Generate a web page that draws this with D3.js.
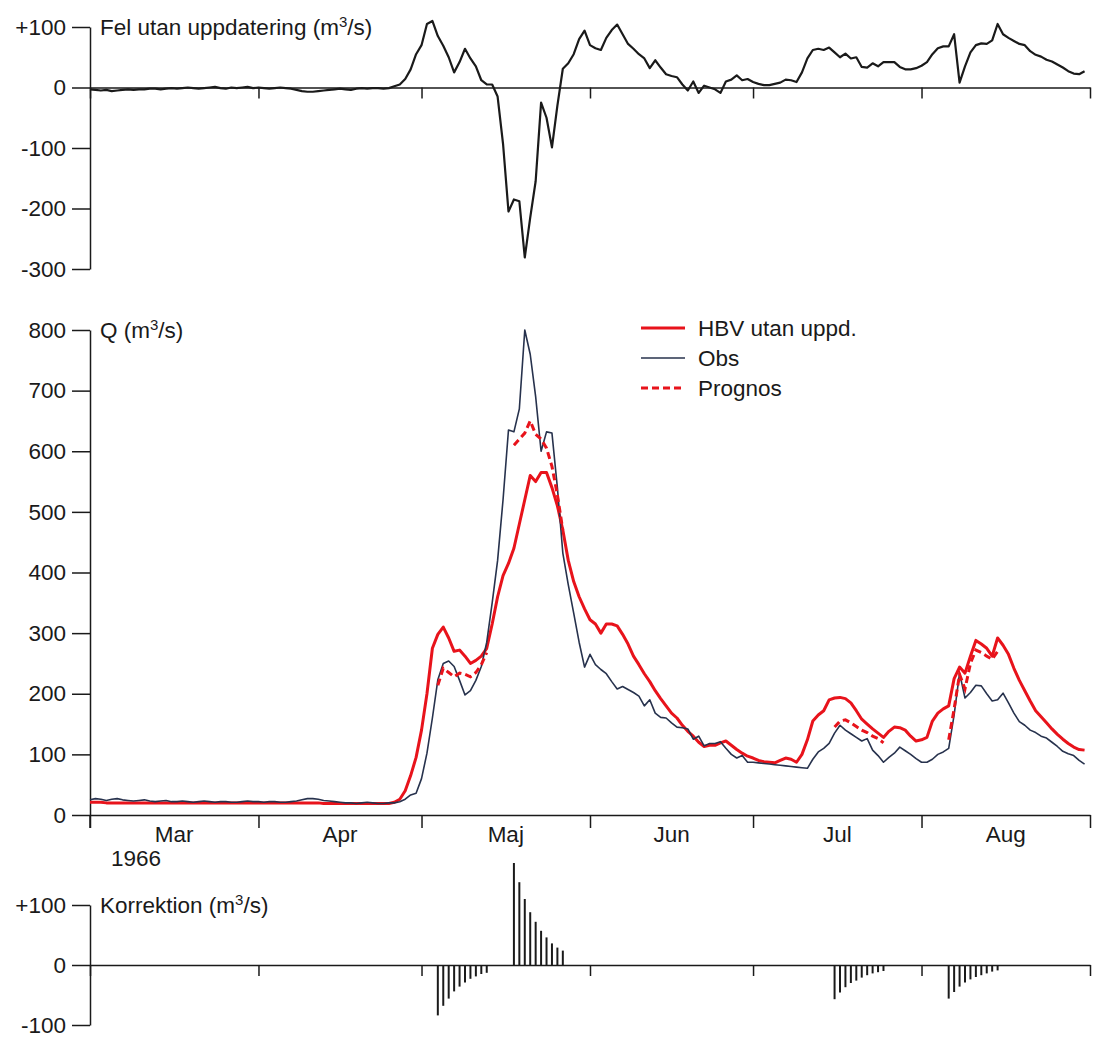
<!DOCTYPE html>
<html>
<head>
<meta charset="utf-8">
<script src="https://cdn.jsdelivr.net/npm/d3@7"></script>
<style>
  body { margin: 0; background: #fff; }
  text { font-family: "Liberation Sans", Arial, sans-serif; fill: #1a1a1a; }
</style>
</head>
<body>
<div id="chart"></div>
<script>
// ------------------------------------------------------------------
//  data (daily values, 1966-03-01 .. 1966-08-31)
// ------------------------------------------------------------------
var startDate = "1966-03-01"
var endDate = "1966-09-01"

var months = ["Mar", "Apr", "Maj", "Jun", "Jul", "Aug"]
var yearLabel = "1966"

// Obs (m3/s)
var obsQ = [
  25,27,26,24,26,27,25,24,23,24,25,23,22,23,24,22,22,23,22,21,22,23,22,21,22,22,21,21,22,23,22,
  22,21,22,22,21,21,22,23,25,27,27,26,24,23,22,21,20,20,19,20,21,20,19,19,20,
  20,22,26,33,36,60,102,160,223,250,254,245,222,198,205,222,245,285,350,420,520,635,632,670,800,
  760,690,600,632,630,540,432,380,333,285,244,
  265,248,240,233,220,208,212,207,202,196,180,190,168,161,160,152,145,144,142,125,130,114,118,118,
  121,110,100,94,98,87,
  87,86,85,84,83,82,81,80,79,78,77,92,104,110,118,135,148,140,134,128,122,126,107,98,87,95,102,112,
  106,100,93,
  87,87,92,100,104,110,165,234,193,202,214,213,200,188,190,201,185,168,154,148,140,136,130,127,120,
  113,105,101,98,90,84
]

// HBV utan uppdatering (m3/s)
var hbvQ = [
  21,21,21,20,20,20,20,20,20,20,20,20,20,20,20,20,20,20,20,20,20,20,20,20,20,20,20,20,20,20,20,
  20,20,20,20,20,20,20,20,20,20,20,20,19,19,19,19,19,19,19,19,19,19,19,19,19,
  21,26,40,65,95,140,200,275,298,310,292,270,272,262,250,255,262,275,315,360,395,415,440,480,520,
  560,550,565,565,540,510,470,420,385,360,340,
  322,315,300,315,315,312,298,282,262,248,233,220,205,192,180,168,160,148,138,130,120,113,115,115,
  119,122,115,108,102,97,
  94,90,88,87,86,90,94,92,87,100,124,155,165,172,190,193,194,192,185,172,158,150,142,135,128,138,
  145,144,140,130,122,
  124,128,155,168,175,180,225,244,234,262,288,282,275,262,292,280,265,242,222,205,188,172,162,152,
  142,133,125,118,112,108,107
]

// Fel utan uppdatering (m3/s)
var felQ = [
  -3,-4,-5,-4,-6,-5,-4,-3,-4,-3,-3,-2,-2,-3,-2,-1,-2,-1,0,-1,-2,-1,0,1,-1,-2,0,-1,0,1,-1,
  0,-1,-2,-1,0,-1,-2,-4,-6,-7,-7,-6,-5,-4,-3,-2,-3,-4,-2,-1,-2,-1,-1,-2,-1,
  2,5,14,30,55,70,105,110,85,69,50,25,42,64,48,35,12,5,5,-15,-93,-205,-185,-188,-281,
  -215,-155,-25,-50,-99,-30,31,40,55,80,94,
  70,65,62,82,95,104,88,72,64,55,48,32,45,33,22,19,17,5,-5,10,-9,3,0,-3,
  -9,10,13,20,12,14,
  9,6,4,4,6,8,13,12,9,25,48,62,64,62,66,58,50,56,48,50,34,33,40,35,42,42,
  42,34,30,30,32,
  36,42,55,65,68,68,88,8,35,58,70,73,72,78,105,88,82,77,72,70,60,54,51,46,
  43,38,33,27,23,22,27
]

// Prognos och korrektion, 10 dagar från varje uppdatering
var forecastStarts = ["1966-05-04", "1966-05-18", "1966-07-16", "1966-08-06"]
var prognosQ = [
  [214,242,235,228,234,232,228,235,248,268],
  [610,620,630,650,628,620,605,575,528,470],
  [145,155,157,152,146,140,136,130,126,119],
  [124,175,232,208,250,272,268,262,257,270]
]
var korrektion = [
  [-84,-68,-56,-44,-36,-29,-23,-19,-15,-13],
  [170,138,110,88,72,57,46,36,29,24],
  [-57,-46,-37,-30,-26,-21,-17,-14,-12,-10],
  [-56,-45,-36,-29,-24,-20,-17,-14,-11,-9]
]

var felTicks = [100, 0, -100, -200, -300]
var qTicks = [0, 100, 200, 300, 400, 500, 600, 700, 800]
var korrTicks = [100, 0, -100]

// ------------------------------------------------------------------
var W = 1093, H = 1037
var red = "#e8131b", navy = "#27324d", ink = "#1a1a1a"
var fs = 22.5

var parse = d3.utcParse("%Y-%m-%d")
var t0 = parse(startDate)
function dayDate(i) { return d3.utcDay.offset(t0, i) }
function fromStart(s, i) { return d3.utcDay.offset(parse(s), i) }

var svg = d3.select("#chart").append("svg")
  .attr("width", W).attr("height", H)

var x = d3.scaleUtc().domain([t0, parse(endDate)]).range([90, 1090])
var monthStarts = d3.utcMonth.range(t0, d3.utcDay.offset(parse(endDate), 1))

var yFel = d3.scaleLinear().domain([-300, 100]).range([269, 27])
var yQ = d3.scaleLinear().domain([0, 800]).range([815, 330])
var yK = d3.scaleLinear().domain([-100, 100]).range([1025, 905])

function fmtSigned(d) { return d > 0 ? "+" + d : String(d) }

// y axis with ticks to the left
function drawYAxis(scale, ticks, fmt) {
  var g = svg.append("g")
    .attr("transform", "translate(90,0)")
    .call(d3.axisLeft(scale).tickValues(ticks).tickFormat(fmt).tickSize(18).tickPadding(6).tickSizeOuter(0))
  g.select(".domain").attr("stroke", ink).attr("stroke-width", 1.5)
  g.selectAll(".tick line").attr("stroke", ink).attr("stroke-width", 1.5)
  g.selectAll(".tick text").style("font-size", fs + "px").style("font-family", "Liberation Sans, Arial, sans-serif").attr("fill", ink)
  return g
}

// horizontal line with month ticks pointing down
function drawXAxis(yPix, tickLen) {
  var g = svg.append("g").attr("transform", "translate(0," + yPix + ")")
    .call(d3.axisBottom(x).tickValues(monthStarts).tickSize(tickLen).tickFormat("").tickSizeOuter(0))
  g.select(".domain").attr("stroke", ink).attr("stroke-width", 1.5)
  g.selectAll(".tick line").attr("stroke", ink).attr("stroke-width", 1.5)
  return g
}

function title(yPix, main) {
  var t = svg.append("text").attr("x", 100).attr("y", yPix + 8).style("font-size", fs + "px")
  t.append("tspan").text(main + " (m")
  t.append("tspan").attr("dy", -8).style("font-size", "15px").text("3")
  t.append("tspan").attr("dy", 8).text("/s)")
}

// ---------------- top panel: Fel utan uppdatering ----------------
drawYAxis(yFel, felTicks, fmtSigned)
drawXAxis(yFel(0), 11)
title(yFel(100), "Fel utan uppdatering")

svg.append("path")
  .datum(felQ)
  .attr("fill", "none")
  .attr("stroke", ink)
  .attr("stroke-width", 2.2)
  .attr("stroke-linejoin", "round")
  .attr("d", d3.line().x(function(d, i) { return x(dayDate(i)) }).y(function(d) { return yFel(d) }))

// ---------------- main panel: Q ----------------
drawYAxis(yQ, qTicks, d3.format("d"))
drawXAxis(yQ(0), 13)
// axis line continues below zero at start
svg.append("line").attr("x1", 90).attr("x2", 90).attr("y1", yQ(0)).attr("y2", yQ(0) + 13)
  .attr("stroke", ink).attr("stroke-width", 1.5)
title(yQ(800), "Q")

var qLine = d3.line().x(function(d, i) { return x(dayDate(i)) }).y(function(d) { return yQ(d) })

svg.append("path").datum(hbvQ)
  .attr("fill", "none").attr("stroke", red).attr("stroke-width", 3)
  .attr("stroke-linejoin", "round").attr("d", qLine)

svg.append("path").datum(obsQ)
  .attr("fill", "none").attr("stroke", navy).attr("stroke-width", 1.6)
  .attr("stroke-linejoin", "round").attr("d", qLine)

forecastStarts.forEach(function(s, k) {
  svg.append("path").datum(prognosQ[k])
    .attr("fill", "none").attr("stroke", red).attr("stroke-width", 3)
    .attr("stroke-dasharray", "7,4")
    .attr("d", d3.line().x(function(d, i) { return x(fromStart(s, i)) }).y(function(d) { return yQ(d) }))
})

// month labels
months.forEach(function(m, i) {
  var a = monthStarts[i], b = monthStarts[i + 1]
  svg.append("text")
    .attr("x", (x(a) + x(b)) / 2).attr("y", yQ(0) + 27)
    .attr("text-anchor", "middle").style("font-size", fs + "px").text(m)
})
svg.append("text").attr("x", 111).attr("y", yQ(0) + 51).style("font-size", fs + "px").text(yearLabel)

// legend
var legend = [
  { name: "HBV utan uppd.", color: red, w: 3, dash: null },
  { name: "Obs", color: navy, w: 1.6, dash: null },
  { name: "Prognos", color: red, w: 3, dash: "7,4" }
]
legend.forEach(function(l, i) {
  var ly = 328 + i * 30
  svg.append("line").attr("x1", 641).attr("x2", 685).attr("y1", ly).attr("y2", ly)
    .attr("stroke", l.color).attr("stroke-width", l.w).attr("stroke-dasharray", l.dash)
  svg.append("text").attr("x", 698).attr("y", ly + 8).style("font-size", fs + "px").text(l.name)
})

// ---------------- bottom panel: Korrektion ----------------
drawYAxis(yK, korrTicks, fmtSigned)
drawXAxis(yK(0), 11)
title(yK(100), "Korrektion")

forecastStarts.forEach(function(s, k) {
  svg.append("g").selectAll("line")
    .data(korrektion[k])
    .enter().append("line")
    .attr("x1", function(d, i) { return x(fromStart(s, i)) })
    .attr("x2", function(d, i) { return x(fromStart(s, i)) })
    .attr("y1", yK(0))
    .attr("y2", function(d) { return yK(d) })
    .attr("stroke", ink).attr("stroke-width", 2)
})
</script>
</body>
</html>
